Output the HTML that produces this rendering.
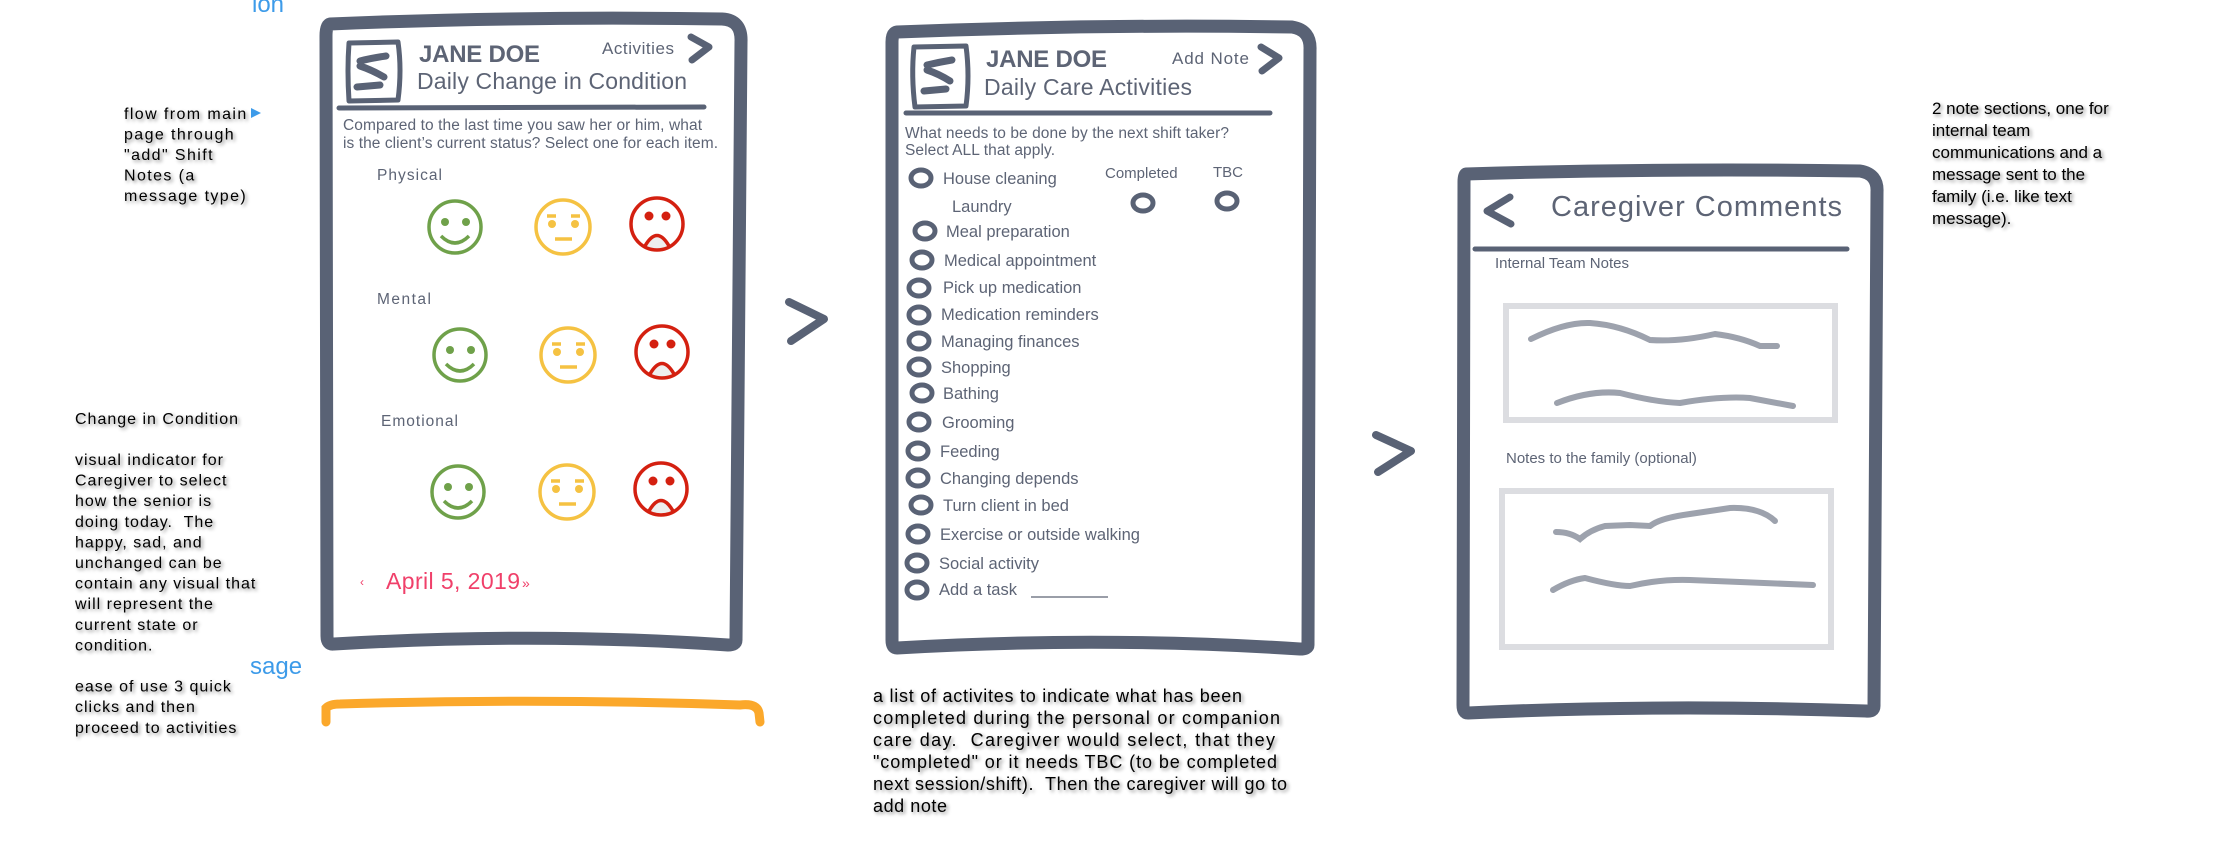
<!DOCTYPE html>
<html><head><meta charset="utf-8"><style>
html,body{margin:0;padding:0;background:#fff;}
svg{display:block;}
.t{font-family:"Liberation Sans",Arial,sans-serif;fill:#5d6475;}
.n{font-family:"Liberation Sans",Arial,sans-serif;fill:#000;white-space:pre;}
.sh{filter:url(#shd);}
</style></head><body>
<svg width="2217" height="844" viewBox="0 0 2217 844" xmlns="http://www.w3.org/2000/svg">
<defs>
<filter id="shd" x="-5%" y="-5%" width="115%" height="115%"><feDropShadow dx="2" dy="2" stdDeviation="1.8" flood-color="#000" flood-opacity="0.45"/></filter>
</defs>
<g fill="none" stroke="#596275" stroke-linecap="round" stroke-linejoin="round">
<path d="M330 24 Q520 16 722 19 Q742 20 741 42 L736 640 Q736 645 728 645 Q540 632 334 644 Q327 645 327 636 L326 36 Q326 25 330 24 Z" stroke-width="13"/>
<path d="M897 32 Q1100 24 1292 27 Q1311 30 1310 50 L1308 645 Q1308 649 1300 649 Q1100 636 897 648 Q892 648 892 640 L892 42 Q892 33 897 32 Z" stroke-width="13"/>
<path d="M1466 174 Q1660 168 1860 171 Q1878 174 1877 192 L1874 706 Q1874 712 1866 711 Q1660 704 1468 713 Q1463 713 1463 705 L1464 182 Q1464 175 1466 174 Z" stroke-width="13"/>
<path d="M349 43 L398 42 Q402 70 398 100 L349 101 Q347 70 349 43 Z" stroke-width="5"/>
<path d="M360 61 Q372 58 386 56 M360 66 Q372 70 384 77 M357 87 Q368 86 380 85" stroke-width="7"/>
<path d="M914 47 L966 46 Q970 76 966 106 L915 107 Q911 76 914 47 Z" stroke-width="5"/>
<path d="M927 65 Q940 62 952 60 M927 70 Q939 74 950 81 M924 91 Q935 90 946 89" stroke-width="7"/>
<path d="M691 37 L709 47 L692 60" stroke-width="7"/>
<path d="M1261 47 L1279 58 L1262 71" stroke-width="7"/>
<path d="M1510 197 L1487 211 L1511 224" stroke-width="7"/>
<path d="M339 108 L704 107" stroke-width="5"/>
<path d="M906 113 L1270 113" stroke-width="5"/>
<path d="M1475 249 L1847 249" stroke-width="5"/>
<path d="M789 302 L824 319 L791 341" stroke-width="8"/>
<path d="M1376 435 L1411 451 L1378 472" stroke-width="8"/>
<g stroke-width="5">
<ellipse cx="921" cy="178" rx="10" ry="8"/>
<ellipse cx="925" cy="231" rx="10" ry="8"/>
<ellipse cx="922" cy="260" rx="10" ry="8"/>
<ellipse cx="919" cy="288" rx="10" ry="8"/>
<ellipse cx="919" cy="315" rx="10" ry="8"/>
<ellipse cx="919" cy="341" rx="10" ry="8"/>
<ellipse cx="919" cy="367" rx="10" ry="8"/>
<ellipse cx="922" cy="393" rx="10" ry="8"/>
<ellipse cx="919" cy="422" rx="10" ry="8"/>
<ellipse cx="918" cy="451" rx="10" ry="8"/>
<ellipse cx="918" cy="478" rx="10" ry="8"/>
<ellipse cx="921" cy="505" rx="10" ry="8"/>
<ellipse cx="918" cy="534" rx="10" ry="8"/>
<ellipse cx="917" cy="563" rx="10" ry="8"/>
<ellipse cx="917" cy="590" rx="10" ry="8"/>
<ellipse cx="1143" cy="203" rx="10" ry="8"/>
<ellipse cx="1227" cy="201" rx="10" ry="8"/>
</g>
</g>
<line x1="1031" y1="597" x2="1108" y2="597" stroke="#5d6475" stroke-width="1.2"/>
<g fill="#eeeeee" stroke="none">
<path d="M645 246 Q657 225 669 246 Q657 252 645 246 Z"/><path d="M650 374 Q662 353 674 374 Q662 380 650 374 Z"/><path d="M649 511 Q661 490 673 511 Q661 517 649 511 Z"/>
</g>
<g fill="none" stroke-width="3.5">
<g stroke="#6fa14a"><circle cx="455" cy="227" r="26"/><circle cx="460" cy="355" r="26"/><circle cx="458" cy="492" r="26"/>
<path d="M441 236 Q455 250 469 236"/><path d="M446 364 Q460 378 474 364"/><path d="M444 501 Q458 515 472 501"/></g>
<g stroke="#f5c242"><circle cx="563" cy="227" r="27"/><circle cx="568" cy="355" r="27"/><circle cx="567" cy="492" r="27"/>
<path d="M547 216 L556 216 M571 216 L580 216 M555 239 L572 239"/><path d="M552 344 L561 344 M576 344 L585 344 M560 367 L577 367"/><path d="M551 481 L560 481 M575 481 L584 481 M559 504 L576 504"/></g>
<g stroke="#d42010"><circle cx="657" cy="224" r="26"/><circle cx="662" cy="352" r="26"/><circle cx="661" cy="489" r="26"/>
<path d="M645 246 Q657 225 669 246"/><path d="M650 374 Q662 353 674 374"/><path d="M649 511 Q661 490 673 511"/></g>
</g>
<g stroke="none">
<circle cx="445" cy="222" r="4" fill="#6fa14a"/><circle cx="466" cy="222" r="4" fill="#6fa14a"/>
<circle cx="450" cy="350" r="4" fill="#6fa14a"/><circle cx="471" cy="350" r="4" fill="#6fa14a"/>
<circle cx="448" cy="487" r="4" fill="#6fa14a"/><circle cx="469" cy="487" r="4" fill="#6fa14a"/>
<circle cx="552" cy="224" r="4" fill="#f5c242"/><circle cx="575" cy="224" r="4" fill="#f5c242"/>
<circle cx="557" cy="352" r="4" fill="#f5c242"/><circle cx="580" cy="352" r="4" fill="#f5c242"/>
<circle cx="556" cy="489" r="4" fill="#f5c242"/><circle cx="579" cy="489" r="4" fill="#f5c242"/>
<circle cx="649" cy="216" r="4.5" fill="#d42010"/><circle cx="666" cy="216" r="4.5" fill="#d42010"/>
<circle cx="654" cy="344" r="4.5" fill="#d42010"/><circle cx="671" cy="344" r="4.5" fill="#d42010"/>
<circle cx="653" cy="481" r="4.5" fill="#d42010"/><circle cx="670" cy="481" r="4.5" fill="#d42010"/>
</g>
<rect x="1506" y="306" width="329" height="114" fill="none" stroke="#dcdde1" stroke-width="6"/>
<rect x="1502" y="491" width="329" height="156" fill="none" stroke="#dcdde1" stroke-width="6"/>
<g fill="none" stroke="#9da2ad" stroke-width="6" stroke-linecap="round">
<path d="M1531 339 Q1565 322 1590 323 Q1620 325 1650 340 Q1680 342 1715 334 Q1740 337 1760 346 L1777 346"/>
<path d="M1557 403 Q1590 390 1620 393 Q1655 402 1680 403 Q1720 396 1750 398 L1793 406"/>
<path d="M1556 532 Q1570 532 1580 539 Q1590 530 1605 526 L1630 525 L1650 526 Q1660 518 1690 514 L1730 508 Q1760 507 1775 521"/>
<path d="M1553 590 Q1570 580 1585 578 Q1615 586 1630 586 Q1660 579 1690 580 L1740 582 L1813 585"/>
</g>
<path d="M326 722 L326 708 Q330 704 340 704 Q540 698 740 705 Q757 703 759 713 L760 722" fill="none" stroke="#fba82b" stroke-width="9" stroke-linecap="round"/>
<text class="t" x="419" y="62" font-size="24" font-weight="bold" textLength="121">JANE DOE</text>
<text class="t" x="602" y="54" font-size="17" textLength="72">Activities</text>
<text class="t" x="417" y="89" font-size="23" textLength="270">Daily Change in Condition</text>
<text class="t" x="343" y="130" font-size="15.5" textLength="359">Compared to the last time you saw her or him, what</text>
<text class="t" x="343" y="148" font-size="15.5" textLength="375">is the client’s current status? Select one for each item.</text>
<text class="t" x="377" y="180" font-size="15.5" textLength="65">Physical</text>
<text class="t" x="377" y="304" font-size="15.5" textLength="54">Mental</text>
<text class="t" x="381" y="426" font-size="15.5" textLength="77">Emotional</text>
<text x="386" y="589" font-family="Liberation Sans, Arial, sans-serif" font-size="23" fill="#f0406a" textLength="134">April 5, 2019</text>
<text x="360" y="586" font-family="Liberation Sans, Arial, sans-serif" font-size="12" fill="#f0406a">‹</text>
<text x="522" y="588" font-family="Liberation Sans, Arial, sans-serif" font-size="14" fill="#f0406a">»</text>
<text class="t" x="986" y="67" font-size="24" font-weight="bold" textLength="121">JANE DOE</text>
<text class="t" x="1172" y="64" font-size="17" textLength="77">Add Note</text>
<text class="t" x="984" y="95" font-size="23" textLength="208">Daily Care Activities</text>
<text class="t" x="905" y="138" font-size="15.5" textLength="324">What needs to be done by the next shift taker?</text>
<text class="t" x="905" y="155" font-size="15.5" textLength="150">Select ALL that apply.</text>
<text class="t" x="1105" y="178" font-size="15">Completed</text>
<text class="t" x="1213" y="177" font-size="15">TBC</text>
<g font-size="16.5">
<text class="t" x="943" y="184">House cleaning</text>
<text class="t" x="952" y="212">Laundry</text>
<text class="t" x="946" y="237">Meal preparation</text>
<text class="t" x="944" y="266">Medical appointment</text>
<text class="t" x="943" y="293">Pick up medication</text>
<text class="t" x="941" y="320">Medication reminders</text>
<text class="t" x="941" y="347">Managing finances</text>
<text class="t" x="941" y="373">Shopping</text>
<text class="t" x="943" y="399">Bathing</text>
<text class="t" x="942" y="428">Grooming</text>
<text class="t" x="940" y="457">Feeding</text>
<text class="t" x="940" y="484">Changing depends</text>
<text class="t" x="943" y="511">Turn client in bed</text>
<text class="t" x="940" y="540">Exercise or outside walking</text>
<text class="t" x="939" y="569">Social activity</text>
<text class="t" x="939" y="595">Add a task</text>
</g>
<text class="t" x="1551" y="216" font-size="29" textLength="291">Caregiver Comments</text>
<text class="t" x="1495" y="268" font-size="15">Internal Team Notes</text>
<text class="t" x="1506" y="463" font-size="15">Notes to the family (optional)</text>
<text x="252" y="12" font-family="Liberation Sans, Arial, sans-serif" font-size="24" fill="#3d9be9">ion</text>
<text x="250" y="674" font-family="Liberation Sans, Arial, sans-serif" font-size="24" fill="#3d9be9">sage</text>
<path d="M251 108 L261 113 L251 118 Z" fill="#3d9be9"/>
<g class="sh">
<text class="n" font-size="16" letter-spacing="1.4">
<tspan x="124" y="119">flow from main</tspan>
<tspan x="124" y="139.5">page through</tspan>
<tspan x="124" y="160">"add" Shift</tspan>
<tspan x="124" y="180.5">Notes (a</tspan>
<tspan x="124" y="201">message type)</tspan>
</text>
<text class="n" font-size="16" letter-spacing="1">
<tspan x="75" y="424">Change in Condition</tspan>
<tspan x="75" y="465">visual indicator for</tspan>
<tspan x="75" y="485.6">Caregiver to select</tspan>
<tspan x="75" y="506.2">how the senior is</tspan>
<tspan x="75" y="526.8">doing today.  The</tspan>
<tspan x="75" y="547.4">happy, sad, and</tspan>
<tspan x="75" y="568">unchanged can be</tspan>
<tspan x="75" y="588.6">contain any visual that</tspan>
<tspan x="75" y="609.2">will represent the</tspan>
<tspan x="75" y="629.8">current state or</tspan>
<tspan x="75" y="650.4">condition.</tspan>
<tspan x="75" y="691.6">ease of use 3 quick</tspan>
<tspan x="75" y="712.2">clicks and then</tspan>
<tspan x="75" y="732.8">proceed to activities</tspan>
</text>
<g font-size="18">
<text class="n" x="873" y="702" textLength="369">a list of activites to indicate what has been</text>
<text class="n" x="873" y="724" textLength="407">completed during the personal or companion</text>
<text class="n" x="873" y="746" textLength="402">care day.  Caregiver would select, that they</text>
<text class="n" x="873" y="768" textLength="404">"completed" or it needs TBC (to be completed</text>
<text class="n" x="873" y="790" textLength="414">next session/shift).  Then the caregiver will go to</text>
<text class="n" x="873" y="812" textLength="74">add note</text>
</g>
<g font-size="17">
<text class="n" x="1932" y="114">2 note sections, one for</text>
<text class="n" x="1932" y="136">internal team</text>
<text class="n" x="1932" y="158">communications and a</text>
<text class="n" x="1932" y="180">message sent to the</text>
<text class="n" x="1932" y="202">family (i.e. like text</text>
<text class="n" x="1932" y="224">message).</text>
</g>
</g>
</svg>
</body></html>
